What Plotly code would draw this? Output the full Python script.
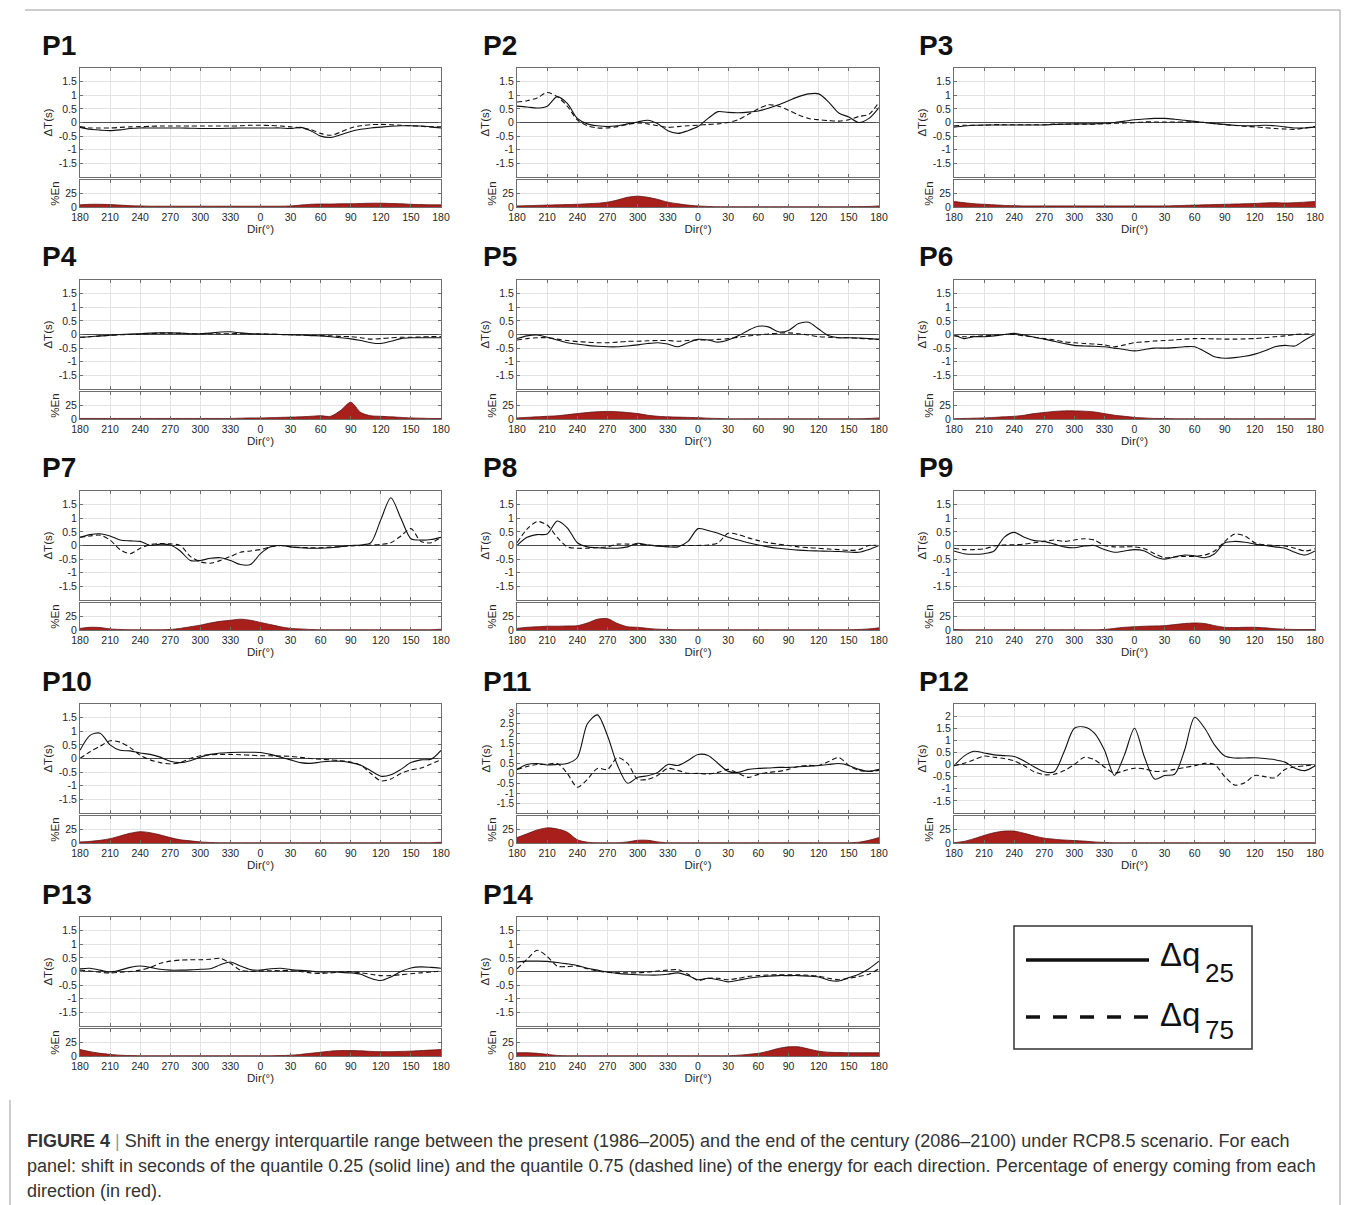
import plotly.graph_objects as go

W, H = 1355, 1205
PAGE_OFF = 8  # browser body margin that shifts the figure on the page
FONT = "Liberation Sans, Arial, sans-serif"

# x positions along the unwrapped direction axis (0 -> 180°, 180 -> 0°, 360 -> 180°)
X_POS = [0, 10, 20, 30, 40, 50, 60, 70, 80, 90, 100, 110, 120, 130, 140, 150, 160, 170, 180,
         190, 200, 210, 220, 230, 240, 250, 260, 270, 280, 290, 300, 310, 320, 330, 340, 350, 360]
XTICK_POS = [0, 30, 60, 90, 120, 150, 180, 210, 240, 270, 300, 330, 360]
XTICK_TXT = ["180", "210", "240", "270", "300", "330", "0", "30", "60", "90", "120", "150", "180"]

PANELS = ["P1", "P2", "P3", "P4", "P5", "P6", "P7", "P8", "P9", "P10", "P11", "P12", "P13", "P14"]

P1_q25 = [-0.18, -0.25, -0.28, -0.30, -0.27, -0.22, -0.20, -0.20, -0.20, -0.20, -0.20, -0.21, -0.22, -0.22, -0.22, -0.21, -0.20, -0.20, -0.20,
          -0.20, -0.20, -0.22, -0.18, -0.30, -0.50, -0.55, -0.45, -0.33, -0.25, -0.20, -0.17, -0.14, -0.12, -0.12, -0.13, -0.16, -0.20]
P1_q75 = [-0.15, -0.20, -0.20, -0.20, -0.18, -0.16, -0.15, -0.14, -0.13, -0.13, -0.13, -0.13, -0.13, -0.13, -0.13, -0.13, -0.12, -0.10, -0.10,
          -0.11, -0.13, -0.16, -0.20, -0.26, -0.40, -0.47, -0.35, -0.20, -0.12, -0.08, -0.07, -0.08, -0.10, -0.12, -0.14, -0.16, -0.16]
P1_en = [4, 5, 5, 4.5, 3.5, 2.5, 2, 1.5, 1.5, 1.5, 1.5, 1.5, 1.5, 1.5, 1.5, 1.5, 1.5, 1.5, 1.5,
         1.5, 1.5, 2, 3.5, 5, 5.5, 5.5, 6, 6, 6.5, 7, 7, 6.5, 6, 5, 4.5, 4, 4]

P2_q25 = [0.60, 0.57, 0.53, 0.60, 0.95, 0.70, 0.15, -0.05, -0.12, -0.15, -0.12, -0.05, 0.02, 0.08, -0.05, -0.30, -0.40, -0.30, -0.15,
          0.15, 0.40, 0.37, 0.36, 0.38, 0.42, 0.52, 0.65, 0.80, 0.95, 1.05, 1.05, 0.75, 0.35, 0.20, 0.00, 0.15, 0.55]
P2_q75 = [0.75, 0.80, 0.90, 1.10, 0.95, 0.60, 0.10, -0.12, -0.20, -0.20, -0.15, -0.07, -0.02, -0.05, -0.12, -0.18, -0.15, -0.12, -0.10,
          -0.07, -0.05, 0.00, 0.10, 0.30, 0.50, 0.65, 0.60, 0.45, 0.28, 0.15, 0.10, 0.07, 0.05, 0.10, 0.22, 0.30, 0.75]
P2_en = [2, 2.5, 3, 3.5, 4, 4.5, 5, 6, 7, 9, 13, 18, 20, 18, 14, 9, 6, 3.5, 2,
         1, 0.5, 0.5, 0.5, 0.5, 0.5, 0.5, 0.5, 0.5, 0.5, 0.5, 0.5, 0.5, 0.5, 0.5, 0.7, 1, 2]

P3_q25 = [-0.17, -0.13, -0.10, -0.09, -0.09, -0.09, -0.09, -0.09, -0.09, -0.09, -0.07, -0.06, -0.05, -0.05, -0.05, -0.03, 0.00, 0.05, 0.10,
          0.13, 0.15, 0.15, 0.12, 0.08, 0.04, 0.00, -0.04, -0.07, -0.10, -0.12, -0.12, -0.10, -0.12, -0.16, -0.20, -0.20, -0.17]
P3_q75 = [-0.12, -0.10, -0.10, -0.10, -0.08, -0.08, -0.08, -0.08, -0.08, -0.08, -0.06, -0.06, -0.06, -0.06, -0.06, -0.05, -0.03, -0.02, -0.01,
          0.02, 0.02, 0.02, 0.02, 0.02, 0.02, 0.00, -0.04, -0.08, -0.11, -0.14, -0.16, -0.19, -0.22, -0.24, -0.25, -0.20, -0.15]
P3_en = [10, 8, 6, 5, 4, 3, 2.5, 2, 2, 2, 2, 2, 2, 2, 2, 2, 2, 2, 2,
         2, 2, 2, 2.5, 3, 3.5, 4, 4.5, 5, 5.5, 6, 6.5, 7.5, 8, 7.5, 8, 9, 10]

P4_q25 = [-0.10, -0.08, -0.05, -0.03, 0.00, 0.02, 0.03, 0.05, 0.06, 0.06, 0.05, 0.03, 0.03, 0.05, 0.09, 0.10, 0.06, 0.03, 0.02,
          0.01, 0.00, -0.01, -0.02, -0.04, -0.05, -0.08, -0.12, -0.16, -0.22, -0.30, -0.33, -0.25, -0.15, -0.12, -0.12, -0.12, -0.12]
P4_q75 = [-0.10, -0.08, -0.05, -0.03, -0.01, 0.00, 0.01, 0.03, 0.05, 0.05, 0.04, 0.03, 0.03, 0.03, 0.03, 0.03, 0.03, 0.02, 0.02,
          0.01, 0.00, -0.01, -0.02, -0.03, -0.04, -0.05, -0.07, -0.08, -0.12, -0.17, -0.15, -0.12, -0.10, -0.10, -0.09, -0.08, -0.08]
P4_en = [1, 1, 1, 1, 1, 1, 1, 1, 1, 1, 1, 1, 1, 1, 1, 1, 1.5, 2, 2,
         2.5, 3, 3.5, 4, 5, 6, 5, 16, 31, 12, 6, 5, 4, 3, 2, 1.5, 1, 1]

P5_q25 = [-0.15, -0.05, -0.02, -0.10, -0.20, -0.30, -0.35, -0.40, -0.43, -0.45, -0.45, -0.42, -0.38, -0.33, -0.30, -0.35, -0.45, -0.30, -0.18,
          -0.20, -0.28, -0.20, -0.05, 0.15, 0.30, 0.28, 0.10, 0.15, 0.40, 0.45, 0.20, -0.05, -0.12, -0.12, -0.13, -0.15, -0.18]
P5_q75 = [-0.20, -0.15, -0.12, -0.12, -0.17, -0.22, -0.26, -0.28, -0.30, -0.30, -0.28, -0.25, -0.25, -0.23, -0.22, -0.22, -0.25, -0.22, -0.20,
          -0.20, -0.18, -0.15, -0.10, -0.05, -0.02, 0.02, 0.05, 0.06, 0.03, -0.02, -0.08, -0.10, -0.12, -0.12, -0.14, -0.16, -0.18]
P5_en = [2, 3, 4, 5, 6, 8, 10, 12, 13.5, 14, 13.5, 12, 10, 7, 5, 4, 3.5, 3, 2.5,
         1.5, 1, 0.5, 0.5, 0.5, 0.5, 0.5, 0.5, 0.5, 0.5, 0.5, 0.5, 0.5, 0.5, 0.5, 0.5, 1, 2]

P6_q25 = [0.00, -0.15, -0.08, -0.08, -0.05, 0.00, 0.04, -0.02, -0.10, -0.17, -0.25, -0.33, -0.40, -0.42, -0.43, -0.45, -0.50, -0.55, -0.60,
          -0.55, -0.50, -0.50, -0.48, -0.45, -0.45, -0.62, -0.82, -0.87, -0.85, -0.80, -0.72, -0.60, -0.45, -0.40, -0.42, -0.20, 0.00]
P6_q75 = [-0.05, -0.08, -0.07, -0.05, -0.03, 0.00, 0.00, -0.05, -0.10, -0.15, -0.20, -0.27, -0.30, -0.33, -0.35, -0.38, -0.45, -0.38, -0.30,
          -0.27, -0.24, -0.22, -0.20, -0.17, -0.15, -0.15, -0.16, -0.17, -0.17, -0.16, -0.15, -0.12, -0.08, -0.05, 0.00, 0.02, 0.02]
P6_en = [0.5, 1, 1.5, 2, 3, 4, 5, 7, 10, 12, 14, 15, 15, 14.5, 13, 10, 7, 5, 3,
         2, 1, 0.7, 0.5, 0.5, 0.5, 0.5, 0.5, 0.5, 0.5, 0.5, 0.5, 0.5, 0.5, 0.5, 0.5, 0.5, 0.5]

P7_q25 = [0.30, 0.40, 0.43, 0.35, 0.20, 0.17, 0.15, 0.00, 0.05, 0.02, -0.20, -0.55, -0.55, -0.47, -0.45, -0.55, -0.70, -0.70, -0.30,
          -0.05, 0.00, -0.05, -0.08, -0.10, -0.10, -0.08, -0.04, 0.00, 0.02, 0.10, 0.95, 1.75, 1.00, 0.25, 0.20, 0.22, 0.30]
P7_q75 = [0.30, 0.35, 0.38, 0.20, -0.15, -0.30, -0.10, 0.03, 0.07, 0.06, 0.00, -0.40, -0.60, -0.65, -0.55, -0.40, -0.25, -0.20, -0.15,
          -0.05, 0.00, -0.05, -0.07, -0.08, -0.08, -0.06, -0.04, -0.02, 0.00, 0.02, 0.04, 0.10, 0.35, 0.62, 0.15, 0.10, 0.30]
P7_en = [3, 5, 4.5, 2, 1, 0.5, 0.5, 0.5, 0.5, 1, 3, 6, 9, 13, 16, 18, 20, 18, 14,
         10, 6, 3, 2, 1, 0.5, 0.5, 0.5, 0.5, 0.5, 0.5, 0.5, 0.5, 0.5, 0.5, 0.5, 0.5, 1.5]

P8_q25 = [0.00, 0.30, 0.40, 0.42, 0.90, 0.65, 0.10, -0.05, -0.08, -0.10, -0.10, -0.05, 0.08, 0.02, -0.03, -0.05, -0.05, 0.15, 0.62,
          0.55, 0.45, 0.30, 0.20, 0.10, 0.02, -0.05, -0.10, -0.14, -0.17, -0.19, -0.20, -0.21, -0.22, -0.24, -0.25, -0.15, 0.00]
P8_q75 = [0.10, 0.60, 0.88, 0.75, 0.30, -0.05, -0.10, -0.10, -0.08, -0.05, 0.05, 0.05, 0.04, 0.02, 0.00, -0.02, 0.00, 0.00, 0.00,
          0.02, 0.10, 0.45, 0.40, 0.28, 0.18, 0.10, 0.05, 0.00, -0.05, -0.08, -0.10, -0.13, -0.15, -0.18, -0.15, 0.00, 0.00]
P8_en = [3, 5, 6, 7, 7, 7.5, 8, 13, 20, 21, 12, 6, 5, 3, 1.5, 1, 0.5, 0.5, 0.5,
         0.5, 0.5, 0.5, 0.5, 0.5, 0.5, 0.5, 0.5, 0.5, 0.5, 0.5, 0.5, 0.5, 0.5, 0.5, 1, 2, 4]

P9_q25 = [-0.20, -0.30, -0.32, -0.30, -0.20, 0.30, 0.48, 0.30, 0.18, 0.15, 0.05, -0.05, -0.08, -0.02, 0.00, -0.15, -0.25, -0.20, -0.15,
          -0.20, -0.40, -0.50, -0.42, -0.35, -0.38, -0.45, -0.30, 0.10, 0.15, 0.12, 0.05, 0.00, -0.05, -0.10, -0.25, -0.35, -0.20]
P9_q75 = [-0.10, -0.15, -0.15, -0.12, -0.02, 0.02, 0.03, 0.05, 0.10, 0.15, 0.20, 0.15, 0.20, 0.25, 0.20, 0.00, -0.05, -0.05, -0.05,
          -0.12, -0.30, -0.45, -0.42, -0.40, -0.40, -0.35, -0.20, 0.15, 0.42, 0.35, 0.10, 0.02, 0.00, -0.02, -0.10, -0.20, -0.12]
P9_en = [1, 0.5, 0.5, 0.5, 0.5, 0.5, 0.5, 0.5, 0.5, 0.5, 0.5, 0.5, 0.5, 0.5, 0.5, 1, 3, 5, 6,
         7, 7.5, 8, 10, 12, 13, 12, 8, 5, 4.5, 5, 5, 4, 2.5, 1.5, 1, 0.8, 1]

P10_q25 = [0.30, 0.85, 0.93, 0.50, 0.30, 0.28, 0.20, 0.15, 0.05, -0.10, -0.15, -0.08, 0.05, 0.15, 0.20, 0.22, 0.23, 0.23, 0.22,
           0.15, 0.05, -0.05, -0.15, -0.18, -0.13, -0.10, -0.10, -0.15, -0.25, -0.45, -0.65, -0.60, -0.40, -0.15, -0.05, -0.03, 0.30]
P10_q75 = [0.00, 0.25, 0.45, 0.65, 0.60, 0.40, 0.12, -0.05, -0.15, -0.20, -0.15, 0.00, 0.10, 0.14, 0.15, 0.15, 0.14, 0.12, 0.10,
           0.10, 0.09, 0.08, 0.04, 0.00, -0.03, -0.05, -0.08, -0.13, -0.25, -0.55, -0.82, -0.75, -0.55, -0.42, -0.35, -0.20, -0.05]
P10_en = [2, 3, 5, 8, 13, 18, 21, 19, 15, 10, 6, 4, 2, 1, 0.5, 0.5, 0.5, 0.5, 0.5,
          0.5, 0.5, 0.5, 0.5, 0.5, 0.5, 0.5, 0.5, 0.5, 0.5, 0.5, 0.5, 0.5, 0.5, 0.5, 0.5, 0.5, 1.5]

P11_q25 = [0.20, 0.45, 0.50, 0.42, 0.45, 0.50, 0.80, 2.50, 2.95, 1.90, 0.40, -0.50, -0.20, -0.12, 0.05, 0.45, 0.40, 0.65, 0.95,
           0.90, 0.50, 0.10, 0.05, 0.20, 0.25, 0.27, 0.30, 0.30, 0.33, 0.36, 0.40, 0.45, 0.50, 0.40, 0.20, 0.10, 0.20]
P11_q75 = [0.20, 0.35, 0.45, 0.45, 0.50, 0.00, -0.70, -0.30, 0.25, 0.20, 0.80, 0.50, -0.30, -0.30, -0.10, 0.25, 0.15, 0.00, 0.00,
           -0.03, 0.05, 0.20, 0.00, -0.20, -0.05, 0.05, 0.10, 0.20, 0.35, 0.40, 0.40, 0.60, 0.80, 0.40, 0.15, 0.10, 0.15]
P11_en = [10, 17, 24, 28, 26, 20, 6, 1.5, 0.5, 0.5, 0.5, 2, 5, 5, 2, 0.5, 0.5, 0.5, 0.5,
          0.5, 0.5, 0.5, 0.5, 0.5, 0.5, 0.5, 0.5, 0.5, 0.5, 0.5, 0.5, 0.5, 0.5, 0.5, 1.5, 5, 10]

P12_q25 = [-0.05, 0.35, 0.55, 0.48, 0.40, 0.37, 0.33, 0.15, -0.10, -0.30, -0.30, 0.55, 1.50, 1.55, 1.30, 0.60, -0.45, 0.40, 1.50,
           0.30, -0.60, -0.45, -0.40, 0.60, 1.95, 1.50, 0.80, 0.35, 0.27, 0.27, 0.28, 0.25, 0.20, 0.10, -0.15, -0.25, -0.05]
P12_q75 = [-0.05, 0.05, 0.20, 0.35, 0.30, 0.25, 0.15, -0.05, -0.30, -0.42, -0.40, -0.25, 0.00, 0.30, 0.20, -0.10, -0.35, -0.25, -0.15,
           -0.18, -0.28, -0.27, -0.20, -0.12, -0.05, 0.05, 0.00, -0.50, -0.85, -0.75, -0.45, -0.50, -0.55, -0.20, -0.10, -0.05, -0.02]
P12_en = [0.5, 3, 8, 14, 19, 22, 22, 18, 13, 9, 7, 5.5, 4.5, 3.5, 2, 1, 0.5, 0.5, 0.5,
          0.5, 0.5, 0.5, 0.5, 0.5, 0.5, 0.5, 0.5, 0.5, 0.5, 0.5, 0.5, 0.5, 0.5, 0.5, 0.5, 0.5, 0.5]

P13_q25 = [0.10, 0.12, 0.05, -0.02, 0.05, 0.15, 0.20, 0.15, 0.08, 0.05, 0.05, 0.06, 0.08, 0.10, 0.25, 0.35, 0.20, 0.07, 0.05,
           0.10, 0.12, 0.07, 0.04, 0.02, -0.02, -0.02, -0.03, -0.05, -0.10, -0.25, -0.33, -0.20, 0.00, 0.13, 0.17, 0.15, 0.12]
P13_q75 = [0.05, 0.02, -0.03, -0.05, -0.03, 0.00, 0.05, 0.15, 0.30, 0.38, 0.42, 0.43, 0.43, 0.45, 0.48, 0.30, 0.05, 0.00, 0.02,
           0.03, 0.03, 0.03, 0.00, -0.05, -0.07, -0.05, -0.02, 0.00, -0.05, -0.10, -0.15, -0.15, -0.12, -0.08, -0.05, -0.02, 0.02]
P13_en = [12, 8, 5, 3, 1.5, 0.8, 0.5, 0.5, 0.5, 0.5, 0.5, 0.5, 0.5, 0.5, 0.5, 0.5, 0.5, 0.5, 0.5,
          0.5, 0.8, 1.5, 3, 5, 7, 9, 10, 10, 9.5, 8.5, 8, 8, 8.5, 9, 10, 11, 12]

P14_q25 = [0.35, 0.38, 0.38, 0.37, 0.33, 0.28, 0.22, 0.12, 0.05, -0.02, -0.07, -0.10, -0.12, -0.13, -0.13, -0.10, -0.05, -0.15, -0.30,
           -0.25, -0.30, -0.38, -0.32, -0.25, -0.20, -0.17, -0.15, -0.15, -0.15, -0.17, -0.20, -0.32, -0.35, -0.22, -0.10, 0.10, 0.38]
P14_q75 = [0.10, 0.45, 0.78, 0.55, 0.20, 0.18, 0.20, 0.10, 0.02, -0.03, -0.05, -0.05, -0.05, -0.02, 0.02, 0.05, 0.07, -0.10, -0.33,
           -0.25, -0.25, -0.30, -0.25, -0.18, -0.15, -0.13, -0.12, -0.12, -0.12, -0.14, -0.17, -0.25, -0.30, -0.25, -0.18, -0.10, 0.10]
P14_en = [6, 6, 5, 3, 1, 0.5, 0.5, 0.5, 0.5, 0.5, 0.5, 0.5, 0.5, 0.5, 0.5, 0.5, 0.5, 0.5, 0.5,
          0.5, 0.5, 0.5, 1.5, 3, 5, 9, 14, 17, 17, 13, 9, 7, 6.5, 6, 6, 6, 6]

Q25 = [P1_q25, P2_q25, P3_q25, P4_q25, P5_q25, P6_q25, P7_q25, P8_q25, P9_q25, P10_q25, P11_q25, P12_q25, P13_q25, P14_q25]
Q75 = [P1_q75, P2_q75, P3_q75, P4_q75, P5_q75, P6_q75, P7_q75, P8_q75, P9_q75, P10_q75, P11_q75, P12_q75, P13_q75, P14_q75]
EN = [P1_en, P2_en, P3_en, P4_en, P5_en, P6_en, P7_en, P8_en, P9_en, P10_en, P11_en, P12_en, P13_en, P14_en]

YTICKS_STD = [-1.5, -1, -0.5, 0, 0.5, 1, 1.5]
YTICKS_P11 = [-1.5, -1, -0.5, 0, 0.5, 1, 1.5, 2, 2.5, 3]
YTICKS_P12 = [-1.5, -1, -0.5, 0, 0.5, 1, 1.5, 2]
YRANGE = {"P11": [-2, 3.5], "P12": [-2, 2.5]}
YTICKS = {"P11": YTICKS_P11, "P12": YTICKS_P12}
EN_TICKS = [0, 25]

LEGEND_NAMES = ["Δq", "Δq"]
LEGEND_SUBS = ["25", "75"]

# ---------- layout geometry (screen pixels) ----------
COL_X = [(80, 441), (517, 879), (954, 1315)]
ROW_TOP = [68, 280, 491, 704, 917]
TOP_H, GAP, EN_H = 109, 3, 27
TITLE_X = [40, 481, 917]

AX_COLOR = "#6e6e6e"
GRID = "#e3e3e3"
TXT = "#262626"
RED = "#a81f1b"


def px_x(p):
    return (p - PAGE_OFF) / W


def px_y(p):
    return 1 - (p - PAGE_OFF) / H


fig = go.Figure()
layout = {}
annotations = []

for i, name in enumerate(PANELS):
    r, c = divmod(i, 3)
    x0, x1 = COL_X[c]
    yt = ROW_TOP[r]
    kt, ke = 2 * i + 1, 2 * i + 2
    xt = "x" if kt == 1 else f"x{kt}"
    yt_ = "y" if kt == 1 else f"y{kt}"
    xe, ye = f"x{ke}", f"y{ke}"
    xdom = [px_x(x0), px_x(x1)]
    top_dom = [px_y(yt + TOP_H), px_y(yt)]
    en_dom = [px_y(yt + TOP_H + GAP + EN_H), px_y(yt + TOP_H + GAP)]

    fig.add_trace(go.Scatter(x=X_POS, y=Q75[i], mode="lines", xaxis=xt, yaxis=yt_, name="Δq75",
                             line=dict(color="#111", width=1.1, dash="5px,3px", shape="spline", smoothing=0.8),
                             showlegend=False, hoverinfo="skip"))
    fig.add_trace(go.Scatter(x=X_POS, y=Q25[i], mode="lines", xaxis=xt, yaxis=yt_, name="Δq25",
                             line=dict(color="#111", width=1.1, shape="spline", smoothing=0.8),
                             showlegend=False, hoverinfo="skip"))
    fig.add_trace(go.Scatter(x=X_POS, y=EN[i], mode="lines", xaxis=xe, yaxis=ye, fill="tozeroy", name="%En",
                             fillcolor=RED, line=dict(color="#5e1210", width=0.8, shape="spline", smoothing=0.8),
                             showlegend=False, hoverinfo="skip"))

    common_x = dict(domain=xdom, range=[0, 360], tickvals=XTICK_POS, ticktext=XTICK_TXT,
                    ticks="inside", ticklen=3, tickcolor=AX_COLOR, showline=True, linecolor=AX_COLOR,
                    linewidth=1, mirror="ticks", showgrid=True, gridcolor=GRID, gridwidth=1,
                    zeroline=False, fixedrange=True, automargin=False,
                    tickfont=dict(size=10.5, color=TXT, family=FONT))
    layout["xaxis" if kt == 1 else f"xaxis{kt}"] = dict(common_x, anchor=yt_, showticklabels=False)
    layout[f"xaxis{ke}"] = dict(common_x, anchor=ye, showticklabels=True,
                                title=dict(text="Dir(°)", font=dict(size=11.5, color=TXT, family=FONT), standoff=2))
    ticks = YTICKS.get(name, YTICKS_STD)
    layout["yaxis" if kt == 1 else f"yaxis{kt}"] = dict(
        domain=top_dom, anchor=xt, range=YRANGE.get(name, [-2, 2]), tickvals=ticks,
        ticktext=[f"{v:g}" for v in ticks], ticks="inside", ticklen=3, tickcolor=AX_COLOR,
        showline=True, linecolor=AX_COLOR, linewidth=1, mirror="ticks", showgrid=True, gridcolor=GRID,
        zeroline=True, zerolinecolor="#4a4a4a", zerolinewidth=1, fixedrange=True, automargin=False,
        tickfont=dict(size=10 if name == "P11" else 10.5, color=TXT, family=FONT),
        title=dict(text="ΔT(s)", font=dict(size=11.5, color=TXT, family=FONT), standoff=3))
    layout[f"yaxis{ke}"] = dict(
        domain=en_dom, anchor=xe, range=[0, 50], tickvals=EN_TICKS, ticks="inside", ticklen=3,
        tickcolor=AX_COLOR, showline=True, linecolor=AX_COLOR, linewidth=1, mirror="ticks",
        showgrid=True, gridcolor=GRID, zeroline=False, fixedrange=True, automargin=False,
        tickfont=dict(size=10.5, color=TXT, family=FONT),
        title=dict(text="%En", font=dict(size=11.5, color=TXT, family=FONT), standoff=3))

    annotations.append(dict(text=f"<b>{name}</b>", x=px_x(TITLE_X[c]), y=px_y(yt - 23), xref="paper",
                            yref="paper", xanchor="left", yanchor="middle", showarrow=False,
                            font=dict(size=28, color="#111", family=FONT)))

# ---------- legend box ----------
shapes = [
    dict(type="rect", xref="paper", yref="paper", x0=px_x(1014), x1=px_x(1252), y0=px_y(1049), y1=px_y(926),
         line=dict(color="#333", width=1.5)),
    dict(type="line", xref="paper", yref="paper", x0=px_x(1026), x1=px_x(1149), y0=px_y(960), y1=px_y(960),
         line=dict(color="#111", width=3.5)),
    dict(type="line", xref="paper", yref="paper", x0=px_x(1026), x1=px_x(1149), y0=px_y(1017), y1=px_y(1017),
         line=dict(color="#111", width=3.5, dash="14px,13px")),
    # page frame
    dict(type="line", xref="paper", yref="paper", x0=px_x(25), x1=px_x(1340), y0=px_y(10), y1=px_y(10),
         line=dict(color="#9a9a9a", width=1)),
    dict(type="line", xref="paper", yref="paper", x0=px_x(1340), x1=px_x(1340), y0=px_y(10), y1=px_y(1205),
         line=dict(color="#9a9a9a", width=1)),
    dict(type="line", xref="paper", yref="paper", x0=px_x(10), x1=px_x(10), y0=px_y(1100), y1=px_y(1205),
         line=dict(color="#9a9a9a", width=1)),
]
LEG_Y = [954, 1014]
SUB_Y = [973, 1030]
for k in range(2):
    annotations.append(dict(text=LEGEND_NAMES[k], x=px_x(1158), y=px_y(LEG_Y[k]), xref="paper", yref="paper",
                            xanchor="left", yanchor="middle", showarrow=False,
                            font=dict(size=33, color="#111", family=FONT)))
    annotations.append(dict(text=LEGEND_SUBS[k], x=px_x(1203), y=px_y(SUB_Y[k]), xref="paper", yref="paper",
                            xanchor="left", yanchor="middle", showarrow=False,
                            font=dict(size=26, color="#111", family=FONT)))

# ---------- caption ----------
CAPTION = [
    "<b>FIGURE 4</b> <span style='color:#9a9a9a'>|</span> Shift in the energy interquartile range between the present (1986–2005) and the end of the century (2086–2100) under RCP8.5 scenario. For each",
    "panel: shift in seconds of the quantile 0.25 (solid line) and the quantile 0.75 (dashed line) of the energy for each direction. Percentage of energy coming from each",
    "direction (in red).",
]
for k, line in enumerate(CAPTION):
    annotations.append(dict(text=line, x=px_x(25), y=px_y(1141 + 25 * k), xref="paper", yref="paper",
                            xanchor="left", yanchor="middle", showarrow=False,
                            font=dict(size=18, color="#333", family=FONT)))

fig.update_layout(width=W, height=H, margin=dict(l=0, r=0, t=0, b=0, pad=0, autoexpand=False),
                  paper_bgcolor="white", plot_bgcolor="white", showlegend=False,
                  annotations=annotations, shapes=shapes, font=dict(family=FONT), **layout)

fig.write_html("out.html")
